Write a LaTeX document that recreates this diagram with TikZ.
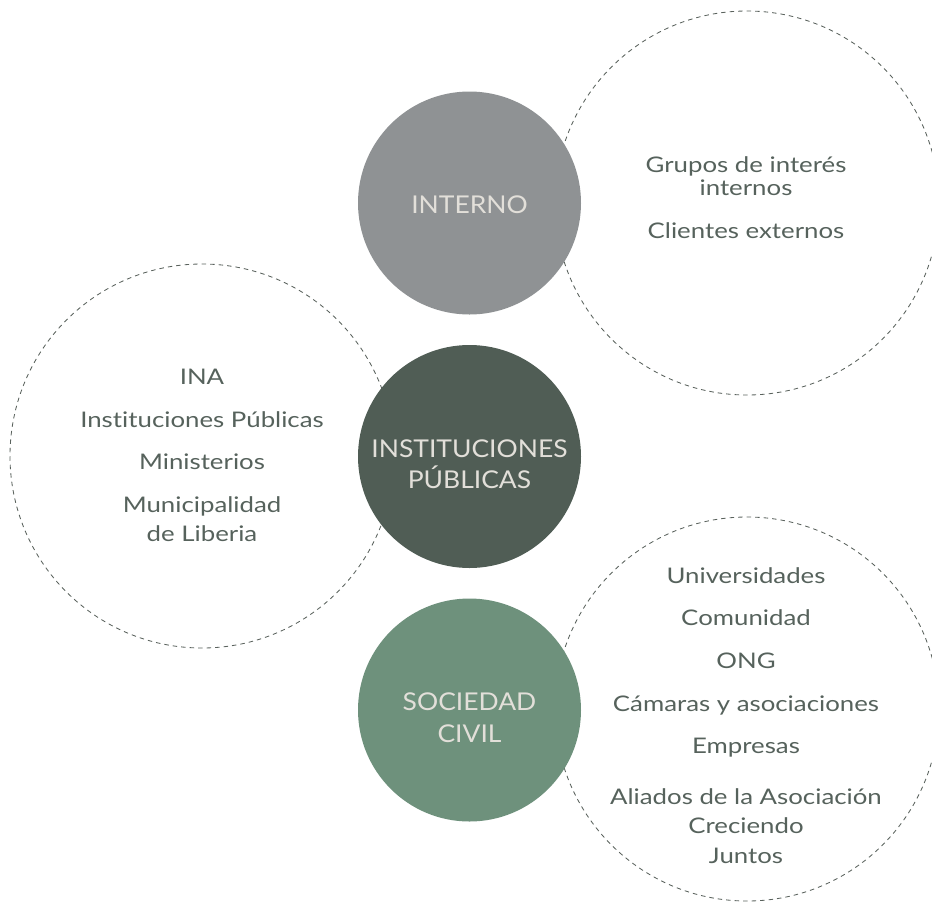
\documentclass[tikz,border=0pt]{standalone}
\usepackage{fontspec}
\setmainfont{Lato}[Ligatures=NoCommon]
\newfontfamily\labelfont{Lato}[FakeStretch=1.08,Ligatures=NoCommon]
\newfontfamily\itemfont{Lato}[FakeStretch=1.2,Ligatures=NoCommon]
\definecolor{cgray}{HTML}{8F9294}
\definecolor{cdark}{HTML}{505D55}
\definecolor{cgreen}{HTML}{6E917C}
\definecolor{clabel}{HTML}{E2DFD9}
\definecolor{ctext}{HTML}{56625C}
\definecolor{cdash}{HTML}{5A625D}
\begin{document}
\begin{tikzpicture}[x=1pt,y=-1pt,
  dashcircle/.style={circle,draw=cdash,line width=0.85pt,dash pattern=on 4.5pt off 4pt,minimum size=384pt,inner sep=0pt},
  solidcircle/.style={circle,minimum size=223pt,inner sep=0pt},
  lbl/.style={anchor=base,text=clabel,font=\labelfont\fontsize{24.5}{31}\selectfont,inner sep=0pt},
  itm/.style={anchor=base,text=ctext,font=\itemfont\fontsize{21.5}{25}\selectfont,inner sep=0pt}]
\useasboundingbox (0,0) rectangle (932,903);
\clip (0,0) rectangle (932,903);
% dashed circles
\node[dashcircle] (dtr) at (747,203) {};
\node[dashcircle] (dl) at (202,456) {};
\node[dashcircle] (dbr) at (747,709) {};
% solid circles
\node[solidcircle,fill=cgray] (cint) at (469.5,203) {};
\node[solidcircle,fill=cdark] (cpub) at (469.5,456.5) {};
\node[solidcircle,fill=cgreen] (csoc) at (469.5,710) {};
% labels
\node[lbl] (l1) at (469.5,213) {INTERNO};
\node[lbl] (l2a) at (469.5,457) {INSTITUCIONES};
\node[lbl] (l2b) at (469.5,488) {PÚBLICAS};
\node[lbl] (l3a) at (469.5,710) {SOCIEDAD};
\node[lbl] (l3b) at (469.5,742) {CIVIL};
% top right items
\node[itm] (t1) at (746,172) {Grupos de interés};
\node[itm] (t2) at (746,195) {internos};
\node[itm] (t3) at (746,238) {Clientes externos};
% left items
\node[itm] (a1) at (202,384) {INA};
\node[itm] (a2) at (202,427) {Instituciones Públicas};
\node[itm] (a3) at (202,469) {Ministerios};
\node[itm] (a4) at (202,512) {Municipalidad};
\node[itm] (a5) at (202,541) {de Liberia};
% bottom right items
\node[itm] (b1) at (746,583) {Universidades};
\node[itm] (b2) at (746,625) {Comunidad};
\node[itm] (b3) at (746,668) {ONG};
\node[itm] (b4) at (746,711) {Cámaras y asociaciones};
\node[itm] (b5) at (746,753) {Empresas};
\node[itm] (b6) at (746,804) {Aliados de la Asociación};
\node[itm] (b7) at (746,833) {Creciendo};
\node[itm] (b8) at (746,863) {Juntos};
\end{tikzpicture}
\end{document}
